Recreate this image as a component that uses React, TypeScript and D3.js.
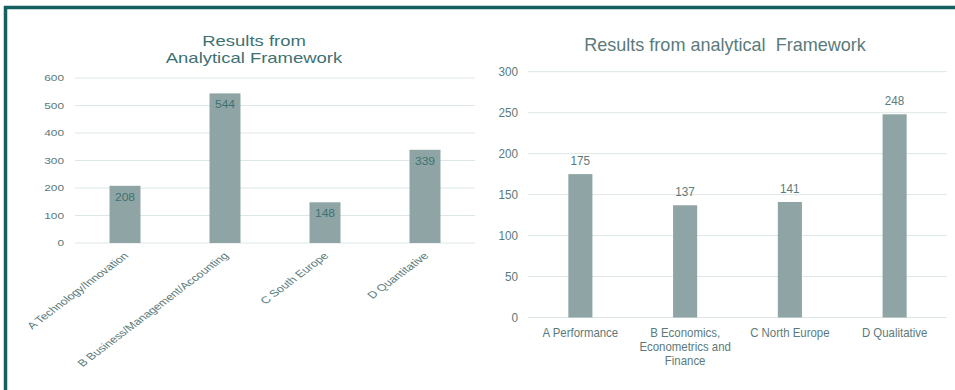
import React from "react";
import * as d3 from "d3";

const leftTitle = ["Results from", "Analytical Framework"];
const leftCategories = [
  "A Technology/Innovation",
  "B Business/Management/Accounting",
  "C South Europe",
  "D Quantitative",
];
const leftValues = [208, 544, 148, 339];
const leftTicks = [0, 100, 200, 300, 400, 500, 600];

const rightTitle = "Results from analytical  Framework";
const rightCategories = [
  ["A Performance"],
  ["B Economics,", "Econometrics and", "Finance"],
  ["C North Europe"],
  ["D Qualitative"],
];
const rightValues = [175, 137, 141, 248];
const rightTicks = [0, 50, 100, 150, 200, 250, 300];

const BAR = "#8fa5a5";
const GRID = "#dde6e6";
const TEAL_TEXT = "#3d7272";
const GREY_TEXT = "#5b7a7a";
const BORDER = "#155f5f";
const FONT = "'Liberation Sans', Arial, sans-serif";

type TProps = {
  x: number;
  y: number;
  sx: number;
  size: number;
  fill: string;
  anchor?: "start" | "middle" | "end";
  dy?: string;
  children: React.ReactNode;
};

function T({ x, y, sx, size, fill, anchor = "middle", dy = "0.35em", children }: TProps) {
  return (
    <text
      transform={`translate(${x},${y}) scale(${sx},1)`}
      textAnchor={anchor}
      fontSize={size}
      fill={fill}
      dy={dy}
      style={{ whiteSpace: "pre" }}
    >
      {children}
    </text>
  );
}

export default function App() {
  const LS = 1.32; // horizontal stretch of left chart text
  const RS = 0.9; // horizontal squeeze of right chart text
  const lx = d3.scaleBand<number>().domain(d3.range(4)).range([75, 475]).paddingInner(0.69).paddingOuter(0.345);
  const ly = d3.scaleLinear().domain([0, 600]).range([243, 78]);
  const rx = d3.scaleBand<number>().domain(d3.range(4)).range([528, 947]).paddingInner(0.77).paddingOuter(0.385);
  const ry = d3.scaleLinear().domain([0, 300]).range([317.5, 71.7]);

  return (
    <svg
      width={955}
      height={390}
      style={{ position: "absolute", left: 0, top: 0, background: "#fff", fontFamily: FONT }}
    >
      <rect x={0} y={0} width={955} height={390} fill="#fff" />
      <line x1={4} x2={955} y1={7.5} y2={7.5} stroke={BORDER} strokeWidth={3.5} />
      <line x1={5.5} x2={5.5} y1={6} y2={390} stroke={BORDER} strokeWidth={3.5} />

      {/* LEFT CHART */}
      <T x={254} y={46} sx={LS} size={14} fill={TEAL_TEXT} dy="0">
        {leftTitle[0]}
      </T>
      <T x={254} y={63} sx={LS} size={14} fill={TEAL_TEXT} dy="0">
        {leftTitle[1]}
      </T>
      {leftTicks.map((t) => (
        <g key={"lt" + t}>
          <line x1={75} x2={475} y1={ly(t)} y2={ly(t)} stroke={GRID} strokeWidth={1} />
          <T x={64} y={ly(t)} sx={LS} size={9} fill={GREY_TEXT} anchor="end">
            {t}
          </T>
        </g>
      ))}
      {leftValues.map((v, i) => (
        <g key={"lb" + i}>
          <rect x={lx(i)!} y={ly(v)} width={lx.bandwidth()} height={ly(0) - ly(v)} fill={BAR} />
          <T x={lx(i)! + lx.bandwidth() / 2} y={ly(v) + 11} sx={1.05} size={11.5} fill={TEAL_TEXT}>
            {v}
          </T>
        </g>
      ))}
      {leftCategories.map((c, i) => {
        const cx = lx(i)! + lx.bandwidth() / 2 + 1;
        return (
          <text
            key={"lc" + i}
            transform={`translate(${cx},${ly(0) + 11}) scale(${LS},1) rotate(-45)`}
            textAnchor="end"
            fontSize={9.6}
            fill={GREY_TEXT}
            dy="0.35em"
          >
            {c}
          </text>
        );
      })}

      {/* RIGHT CHART */}
      <T x={725} y={51} sx={0.95} size={19} fill={GREY_TEXT} dy="0">
        {rightTitle}
      </T>
      {rightTicks.map((t) => (
        <g key={"rt" + t}>
          <line x1={528} x2={947} y1={ry(t)} y2={ry(t)} stroke={GRID} strokeWidth={1} />
          <T x={518} y={ry(t)} sx={RS} size={13} fill={GREY_TEXT} anchor="end">
            {t}
          </T>
        </g>
      ))}
      {rightValues.map((v, i) => (
        <g key={"rb" + i}>
          <rect x={rx(i)!} y={ry(v)} width={rx.bandwidth()} height={ry(0) - ry(v)} fill={BAR} />
          <T x={rx(i)! + rx.bandwidth() / 2} y={ry(v) - 14} sx={RS} size={13} fill={GREY_TEXT}>
            {v}
          </T>
        </g>
      ))}
      {rightCategories.map((lines, i) =>
        lines.map((l, j) => (
          <T
            key={"rc" + i + "-" + j}
            x={rx(i)! + rx.bandwidth() / 2}
            y={ry(0) + 15 + j * 14}
            sx={0.88}
            size={13}
            fill={GREY_TEXT}
          >
            {l}
          </T>
        ))
      )}
    </svg>
  );
}
